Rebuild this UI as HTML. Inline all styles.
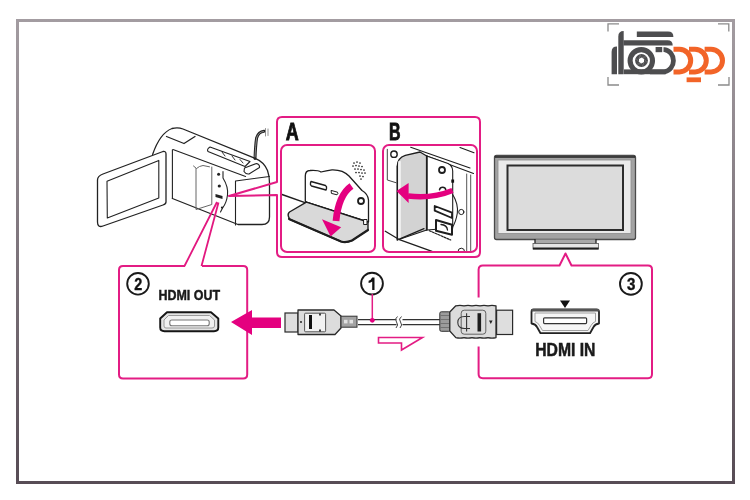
<!DOCTYPE html>
<html><head><meta charset="utf-8">
<style>
html,body{margin:0;padding:0;background:#fff;width:750px;height:500px;overflow:hidden}
svg{display:block;will-change:transform;filter:blur(0.35px)}
text{font-family:"Liberation Sans",sans-serif;font-weight:bold}
</style></head><body>
<svg width="750" height="500" viewBox="0 0 750 500">
<defs>
<linearGradient id="fg" x1="0" y1="0" x2="0" y2="1">
<stop offset="0" stop-color="#a39ca1"/><stop offset="1" stop-color="#574c55"/>
</linearGradient>
</defs>
<rect x="0" y="0" width="750" height="500" fill="#fff"/>
<!-- outer frame -->
<path d="M16,19H735V484H16Z M19,22V481H732V22Z" fill="url(#fg)" fill-rule="evenodd"/>

<!-- logo brackets -->
<g stroke="#8a8a8a" stroke-width="1.3" fill="none">
<path d="M608,31.5V23.8H619"/><path d="M718,23.8H728.8V31.5"/>
<path d="M608,77V85H619"/><path d="M718,85H729V77"/>
</g>


<!-- LOGO -->
<g fill="#4d4d4f">
<path d="M611.6,74.2V52Q611.6,46.6 617,46.6V74.2Z"/>
<path d="M618.3,74.2V36.5Q618.3,31 623.7,31V74.2Z"/>
<path d="M636.8,31.6H668Q673.4,31.6 673.4,37H636.8Z"/>
<path d="M623.5,40.3H667.5Q672.7,40.3 672.7,45.5H623.5Z"/>
<rect x="624" y="69.4" width="42" height="4.8"/>
<rect x="655.6" y="47" width="6.6" height="5.2"/>
<circle cx="641.5" cy="60.5" r="6.4"/>
</g>
<g fill="none" stroke="#4d4d4f">
<circle cx="641.3" cy="60.8" r="11.2" stroke-width="5.1"/>
<path d="M663.5,49.6H664.5A10.3,11.2 0 0 1 664.5,71.8H650" stroke-width="4.8"/>
</g>
<polygon points="644.01,61.95 641.50,63.40 638.99,61.95 638.99,59.05 641.50,57.60 644.01,59.05" fill="#fff"/>
<path d="M644.01,61.95L642.51,66.21M641.50,63.40L637.06,64.23M638.99,61.95L636.05,58.52M638.99,59.05L640.49,54.79M641.50,57.60L645.94,56.77M644.01,59.05L646.95,62.48" stroke="#8a8a8a" stroke-width="0.6"/>
<g fill="none" stroke="#f26428" stroke-width="5">
<path d="M673.5,49.3H679.4A11.3,11.3 0 0 1 679.4,71.9H673.5"/>
<path d="M689,49.3H695A11.3,11.3 0 0 1 695,71.9H689"/>
<path d="M704.6,49.3H711A11.5,11.3 0 0 1 711,71.9H704.6"/>
</g>
<rect x="686.6" y="77.4" width="14.4" height="4.8" fill="#f26428"/>

<!-- CAMERA -->
<g fill="none" stroke="#222" stroke-width="1.3" stroke-linejoin="round" stroke-linecap="round">
<!-- body top outline -->
<path d="M152.6,154.5Q160,133 172,128.5Q178,127 183,129L255.2,158.4Q264,162 267.5,170.5Q269.5,176 269.5,183V217Q269.5,224.5 262,224.5H238L172.4,198.5"/>
<!-- top flat panel -->
<path d="M166.5,136.5L184,143.5L195,136.5"/>
<!-- body front top edge -->
<path d="M173,149.5L245.6,176.4" stroke-width="1.1"/>
<!-- verticals -->
<path d="M172.4,149.8V198.5M164.5,153V200" stroke-width="1.1"/>
<!-- lens front block -->
<path d="M235.5,181V225M235.5,181L269.5,176.5" stroke-width="1.1"/>
<!-- port lid -->
<path d="M196,168.5V209.5L211.8,204.5V167M193.5,166L196.5,168.5L199.5,166.5L203,165.5L209.5,166.8" stroke-width="1" stroke="#666"/>
<!-- port side -->
<path d="M223,171.5V178Q228.5,187 227.5,195Q226.5,203 222.8,207.6L220.5,212" stroke-width="1.1"/>
<!-- controls -->
<path d="M210,147L250,161.5L245,166.5L208,151.5Q206.5,149 210,147Z" stroke-width="1.1"/><path d="M222,152L225,156M232,156L235,160M240,159.5L243,163" stroke-width="0.9"/>
<path d="M244.5,168L256.5,163.5Q260,164.5 259.5,167.5L249,174Q246,174.5 244,171.5Z" stroke-width="1.1"/>
<!-- cord -->
<path d="M255,158.5Q255.5,145 256.6,138Q258.5,131.5 264,131.2" stroke-width="3"/><path d="M255,157Q255.5,145 256.6,138Q258.5,131.8 263.5,131.5" stroke-width="0.9" stroke="#999"/>
<path d="M265.5,128.5V136M268,129V135.5" stroke-width="0.8" stroke="#777"/>
<!-- LCD -->
<path d="M103,174L163,151.5Q166,151 166,154V202Q166,204 163,205L103,226Q97.5,228 97.5,222V180Q97.5,176 103,174Z" fill="#fff"/>
<path d="M107,181.2L158.8,160.4V198L107.3,218Z" stroke-width="1.1"/>
</g>
<g fill="#222">
<circle cx="218.6" cy="174.2" r="1.5"/>
<circle cx="219.3" cy="186" r="1.6"/>
<path d="M215.5,194L222.5,196V199L215.5,197Z"/>
<circle cx="222" cy="207.6" r="1.1"/>
</g>
<!-- camera pink callout lines -->
<g stroke="#e2187f" stroke-width="1.8" fill="none">
<path d="M217,202L184.5,266M218.5,202.5L201.5,266"/>
</g>


<!-- BOX A illustration -->
<g stroke="#1e1e1e" stroke-linejoin="round" stroke-linecap="round">
<path d="M282,194.5L306.4,203.2" stroke-width="1.4" fill="none"/>
<path d="M305.3,201V176Q305.3,170.5 310,170.5Q318,170 321,172Q326,170.5 332,169.8Q343,169.5 349,176L362,190.5Q368,194 368.5,200V222L306.4,202.2Z" fill="#fff" stroke-width="1.3"/>
<path d="M311,181.5L325.5,185.5Q327,186.5 326.5,188.5L326,190L311.5,186Q310,185 310.5,183Z" fill="#fff" stroke-width="1.4"/>
<path d="M331.5,190.5L337.5,192.2Q338.5,194 337,194.8L331.8,193.5Z" fill="#fff" stroke-width="1"/>
<circle cx="361" cy="201" r="3" fill="#fff" stroke-width="1.8"/>
<path d="M306.4,202.2L368,222" stroke-width="1.2" fill="none"/>
<path d="M306.4,202.2L289.5,212Q286.5,214.5 290,219.5L341,241.5Q346,243 352,240.5L368,230V222Z" fill="#d9d9d9" stroke-width="1.4"/>
<path d="M289,219L341,241.5Q346,243 352,240.5L368,230" fill="none" stroke-width="2.2"/><rect x="364" y="219.5" width="3" height="5" fill="#fff" stroke-width="1"/>
</g>
<g fill="#222">
<circle cx="354" cy="163" r="0.85"/><circle cx="357" cy="162" r="0.85"/><circle cx="360" cy="163" r="0.85"/>
<circle cx="353" cy="166" r="0.85"/><circle cx="356" cy="165.5" r="0.85"/><circle cx="359" cy="166" r="0.85"/><circle cx="362" cy="166.5" r="0.85"/>
<circle cx="355" cy="169" r="0.85"/><circle cx="358" cy="169" r="0.85"/><circle cx="361" cy="169.5" r="0.85"/><circle cx="364" cy="170" r="0.85"/>
<circle cx="356" cy="172.5" r="0.85"/><circle cx="359" cy="172.5" r="0.85"/><circle cx="362" cy="173" r="0.85"/><circle cx="365" cy="173" r="0.85"/>
<circle cx="360" cy="176" r="0.85"/><circle cx="363" cy="176.5" r="0.85"/><circle cx="361" cy="179" r="0.85"/>
</g>
<path d="M351.5,186Q338.5,195 336,221" fill="none" stroke="#e4007f" stroke-width="6.8"/>
<path d="M322,219.3L341.2,227.2L330.6,236.6Z" fill="#e4007f"/>

<!-- BOX B illustration -->
<g stroke="#1e1e1e" stroke-linejoin="round" stroke-linecap="round" fill="none">
<path d="M410.7,147.3L470,168M426.7,156L473.5,173.5M460,147.5L474,152.7" stroke-width="1.1"/>
<path d="M387.3,149.3V180L396,182.7" stroke-width="1" stroke="#444"/>
<circle cx="394" cy="154.2" r="3.2" stroke-width="1.4" fill="#fff"/>
<path d="M426.7,156L448,163.5Q452.7,166 452.7,171V228L426.7,230Z" fill="#fff" stroke-width="1.1"/>
<path d="M397.3,166Q397.3,158 405.3,155.3L420,152L426.7,156V230L397.3,240Z" fill="#d3d3d3" stroke-width="1.3"/>
<path d="M399.5,162V239" stroke="#f4f4f4" stroke-width="2.6"/>
<path d="M397.3,166V240" stroke-width="1.2"/>
<path d="M426.7,156V230" stroke-width="1.6"/>
<circle cx="442" cy="170" r="3" fill="#fff" stroke-width="1.8"/>
<path d="M439.5,189.8A3.2,3.2 0 0 1 445.8,189.8" stroke-width="1.5"/>
<path d="M434.7,206L452,212.7V218L434.7,210.7Z" stroke-width="1.8" fill="#fff"/>
<path d="M436,220L452,224.7V234.7L436,230.7Z" stroke-width="2" fill="#fff"/>
<path d="M441,224.5Q447,225 447.5,230" stroke-width="1.3"/>
<path d="M452.7,194.5Q458.5,204 457.3,213.3Q456,222 452,228" stroke-width="1.1"/>
<circle cx="461.3" cy="212" r="2.6" stroke-width="1" fill="#fff"/>
<path d="M466.7,174V251M470.7,175V251" stroke-width="1" stroke="#555"/>
<path d="M385.3,231.3L398.7,239.3L432,251.3M398.7,239.3L424,228.7" stroke-width="1.3"/>
<path d="M429.3,230.7L450.7,240" stroke-width="1.2" stroke-dasharray="2,1.2"/>
<path d="M458,251.5A3.3,3.3 0 0 1 464.6,251.5" stroke-width="1"/>
</g>
<rect x="451.3" y="179.5" width="2.8" height="3.2" fill="#111"/>
<path d="M452.5,190.5Q432,199 408,196" fill="none" stroke="#e4007f" stroke-width="5.5"/>
<path d="M408.6,183L408.6,203L396.5,191Z" fill="#e4007f"/>

<!-- pink boxes -->
<g fill="none" stroke="#e31c84" stroke-width="2" stroke-linejoin="round">
<!-- A/B outer callout -->
<path d="M277,182V122Q277,117 282,117H475Q480,117 480,122V252Q480,257 475,257H282Q277,257 277,252V195 L229,196 Z"/>
<rect x="281" y="145" width="94" height="107" rx="6"/>
<rect x="383" y="145" width="94" height="107" rx="6"/>
<!-- box 2 -->
<path d="M185,266H123Q119,266 119,270V374.5Q119,378.5 123,378.5H243.2Q247.2,378.5 247.2,374.5V270Q247.2,266 243.2,266H202"/>
<!-- box 3 -->
<path d="M478.6,297.5V269.5Q478.8,265.5 482.8,265.5H559.5L565.5,253.5L571.5,265.5H648Q652,265.5 652,269.5V374Q652,378.2 648,378.2H482.8Q478.6,378.2 478.6,374V346.5"/>
</g>

<!-- TV -->
<g>
<rect x="494.5" y="155.5" width="141" height="84" rx="2" fill="#a3a3a3" stroke="#4a4a4a" stroke-width="1.3"/>
<path d="M495,157H635" stroke="#222" stroke-width="1.6"/>
<rect x="498" y="160" width="133" height="73.5" fill="#eaeaea" stroke="#8d8d8d" stroke-width="0.8"/>
<rect x="507.5" y="165.5" width="115.5" height="64.5" fill="#dcdcdc" stroke="#2c2c2c" stroke-width="2"/>
<rect x="535" y="239.5" width="61" height="5" fill="#a9a9a9"/>
<path d="M535,239V245M596,239V245" stroke="#222" stroke-width="1.3"/>
<rect x="533" y="243.5" width="65.5" height="5.5" fill="#e6e6e6" stroke="#555" stroke-width="0.8"/>
<path d="M533,248.5H598.5" stroke="#1e1e1e" stroke-width="2"/>
</g>

<!-- text labels -->
<text x="285.8" y="139.6" font-size="23" textLength="13" lengthAdjust="spacingAndGlyphs" fill="#111" stroke="#111" stroke-width="0.85">A</text>
<text x="389" y="139.6" font-size="23" textLength="11.6" lengthAdjust="spacingAndGlyphs" fill="#111" stroke="#111" stroke-width="0.85">B</text>
<text x="158.5" y="300" font-size="15.4" textLength="61.5" lengthAdjust="spacingAndGlyphs" fill="#1a1a1a" stroke="#1a1a1a" stroke-width="0.5">HDMI OUT</text>
<text x="535.2" y="355.8" font-size="18.2" textLength="60.3" lengthAdjust="spacingAndGlyphs" fill="#1a1a1a" stroke="#1a1a1a" stroke-width="0.5">HDMI IN</text>

<!-- numbered circles -->
<g fill="#fff" stroke="#1a1a1a" stroke-width="1.9">
<circle cx="138" cy="283.8" r="10.8"/>
<circle cx="372" cy="283.6" r="10.9"/>
<circle cx="630.9" cy="283.9" r="10.9"/>
</g>
<g font-size="17" fill="#111" stroke="#111" stroke-width="0.4">
<text x="134.2" y="289.9" textLength="8" lengthAdjust="spacingAndGlyphs">2</text>
<text x="627" y="290.2" textLength="8.4" lengthAdjust="spacingAndGlyphs">3</text>
</g>
<path d="M372.2,277.6H374.5V290.1H372.2V281.6Q370.6,282.8 368.6,283V280.8Q371.2,280 372.2,277.6Z" fill="#111"/>
<path d="M372.3,294V320" stroke="#e31c84" stroke-width="1.5"/>

<!-- ports -->
<path d="M167,312.2H211L218.3,318.5V327.5Q218.3,331.2 214,331.2H164.5Q160.2,331.2 160.2,327.5V318.5Z" fill="#e4e4e4" stroke="#151515" stroke-width="1.9" stroke-linejoin="round"/>
<path d="M168.5,315.5H209.5L214.5,320V326Q214.5,328 212,328H166Q164,328 164,326V320Z" fill="#f0f0f0" stroke="#9a9a9a" stroke-width="1"/>
<rect x="169.8" y="320" width="39.4" height="5.8" rx="2" fill="#fff" stroke="#777" stroke-width="1.1"/>
<path d="M533.5,309.5H596.5Q599,309.5 599,312V323.5Q595,324 593.5,327L590,333.2H540.5L537,327Q535.5,324 531.5,323.5V312Q531.5,309.5 533.5,309.5Z" fill="#f6f6f6" stroke="#222" stroke-width="1.8" stroke-linejoin="round"/>
<path d="M531.5,310.2H599" stroke="#555" stroke-width="2.4"/>
<path d="M535,313H595.5V321.5Q592.5,322.5 591,325.5L588,330.5H542.5L539.5,325.5Q538,322.5 535,321.5Z" fill="none" stroke="#a0a0a0" stroke-width="1"/>
<rect x="543.6" y="317.8" width="43" height="5.8" rx="1" fill="#fff" stroke="#333" stroke-width="1.2"/>
<path d="M560,300.5H570L565,308Z" fill="#111"/>

<!-- pink arrows -->
<path d="M231,322L252,310V317.5H281V328H252V335Z" fill="#e4007f"/>
<path d="M378.5,337.5H422.5L401.5,350V343H378.5Z" fill="none" stroke="#e31c84" stroke-width="1.6" stroke-linejoin="miter"/>

<!-- cable -->
<rect x="358" y="319.6" width="82" height="5" fill="#fff"/>
<path d="M358,319.6H440M358,324.6H440" stroke="#333" stroke-width="1.3"/>
<circle cx="372.3" cy="320.3" r="2.4" fill="#e4007f"/>
<rect x="396.5" y="317" width="6" height="10" fill="#fff"/>
<path d="M397.5,316.5Q394,319 396.5,322Q399,325 396,328M401.5,316.5Q398,319 400.5,322Q403,325 400,328" stroke="#444" stroke-width="1" fill="none"/>

<!-- left plug -->
<rect x="285" y="313" width="13" height="19" fill="#dedede" stroke="#2a2a2a" stroke-width="1.2"/>
<path d="M298,310H334L341,316V328L335,334.5H298Z" fill="#dcdcdc" stroke="#2a2a2a" stroke-width="1.3" stroke-linejoin="round"/>
<rect x="304.6" y="313.2" width="21" height="18.6" rx="1" fill="#f2f2f2" stroke="#444" stroke-width="0.9"/><path d="M320,313.5V315.5M320,329.5V331.5" stroke="#111" stroke-width="1.6"/>
<rect x="309" y="315" width="3" height="14" fill="#111"/>
<circle cx="301" cy="322" r="0.9" fill="#111"/>
<rect x="341" y="316.2" width="16" height="11" fill="#a3a3a3" stroke="#333" stroke-width="1"/>
<rect x="344" y="319.8" width="3.5" height="3.6" fill="#e2e2e2"/>
<rect x="349.5" y="319.8" width="3.5" height="3.6" fill="#e2e2e2"/>

<!-- right plug -->
<rect x="439.8" y="311.8" width="10.5" height="19.5" rx="1.5" fill="#9c9c9c" stroke="#333" stroke-width="1"/>
<path d="M440.5,315.5H450M440.5,319.5H450M440.5,323.5H450M440.5,327.5H450" stroke="#6e6e6e" stroke-width="0.9"/>
<path d="M449.8,312L455.8,305.8Q460,304.8 464,305.8Q468,304.8 472,305.8Q476,304.8 480,305.8Q484,304.8 488,305.8Q492,304.8 496,305.8V337.6Q492,338.6 488,337.6Q484,338.6 480,337.6Q476,338.6 472,337.6Q468,338.6 464,337.6Q460,338.6 455.8,337.6L449.8,331Z" fill="#dcdcdc" stroke="#2a2a2a" stroke-width="1.3" stroke-linejoin="round"/>
<rect x="496.6" y="310.2" width="16" height="24.3" fill="#dedede" stroke="#2a2a2a" stroke-width="1.2"/>
<rect x="461.2" y="310.2" width="24.6" height="24" rx="3" fill="none" stroke="#555" stroke-width="0.9"/>
<path d="M470,316.5H464.5Q457.8,316.5 457.8,322.5Q457.8,328.5 464.5,328.5H470M466.6,313.2V331.5" fill="none" stroke="#333" stroke-width="1.1"/>
<rect x="477.5" y="313.2" width="3.6" height="18.3" fill="#1e1e1e"/>
<path d="M489,320.6H492.6L490.8,324Z" fill="#222"/>
</svg>
</body></html>
